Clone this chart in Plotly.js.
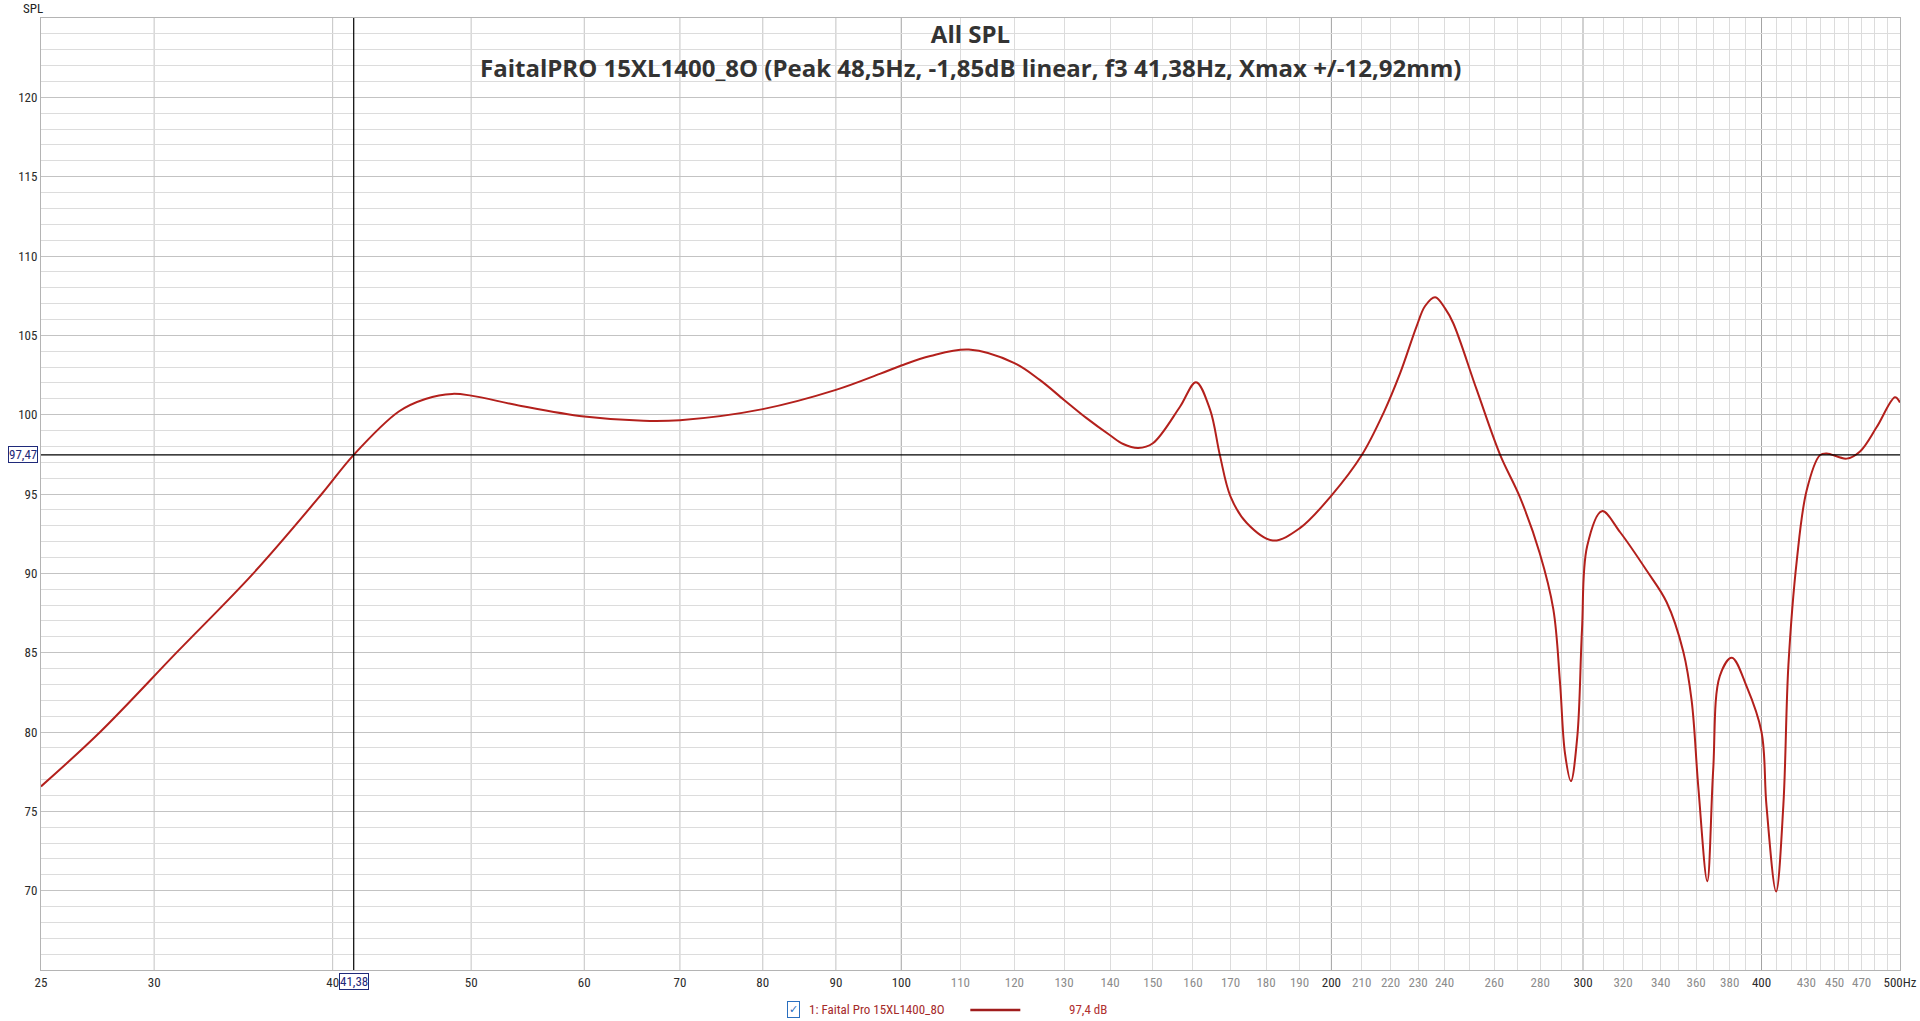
<!DOCTYPE html>
<html>
<head>
<meta charset="utf-8">
<script src="https://cdn.plot.ly/plotly-3.0.1.min.js"></script>
<style>
  html, body { margin: 0; padding: 0; background: #ffffff; }
  #chart { width: 1920px; height: 1021px; }
</style>
</head>
<body>
<div id="chart"></div>
<script>
// ---- data ----
const freqHz = [25.0, 27.5, 31.1, 35.2, 39.3, 41.38, 44.5, 46.45, 48.5, 50, 54.2, 60, 66, 70, 80, 90, 96.6, 100, 104.8, 111.5, 120, 125, 130, 134.8, 140, 143, 146.5, 150, 156.7, 160.8, 164.5, 167.1, 170, 174.5, 182, 190.1, 200, 210.1, 217.5, 223.4, 229.4, 232.6, 236.4, 240.2, 243.4, 252.8, 262.5, 271, 279.8, 286, 289.1, 291.4, 294.2, 297.3, 299.5, 302, 309.3, 318.5, 332.5, 343.3, 352.6, 357.4, 361.3, 366.5, 370, 374, 381.3, 390.5, 400, 403.2, 409.5, 414.3, 417.7, 423.4, 430.2, 439.5, 444.3, 458.8, 468.8, 481.6, 496, 500];
const splDb = [76.57, 80.0, 85.0, 90.0, 95.0, 97.47, 100.2, 100.99, 101.31, 101.2, 100.55, 99.88, 99.61, 99.65, 100.35, 101.56, 102.57, 103.1, 103.7, 104.1, 103.25, 102.19, 100.93, 99.78, 98.7, 98.15, 97.9, 98.2, 100.5, 102.05, 100.3, 97.45, 94.84, 93.17, 92.07, 92.85, 94.9, 97.47, 100.1, 102.6, 105.55, 106.85, 107.4, 106.7, 105.76, 101.56, 97.47, 94.8, 91.27, 87.73, 83.09, 78.67, 76.91, 79.78, 86.41, 91.71, 93.92, 92.59, 90.16, 88.18, 85.08, 81.98, 76.47, 70.6, 77.57, 83.53, 84.68, 82.87, 80.0, 75.36, 69.95, 75.36, 84.2, 90.82, 95.24, 97.45, 97.56, 97.23, 97.68, 99.22, 101.1, 100.77];

const seriesName = "1: Faital Pro 15XL1400_8O";
const seriesValueText = "97,4 dB";
const cursorFreq = 41.38;
const cursorFreqText = "41,38";
const cursorLevel = 97.47;
const cursorLevelText = "97,47";

const yTickVals = [70, 75, 80, 85, 90, 95, 100, 105, 110, 115, 120];
const xTickVals = [25, 30, 40, 50, 60, 70, 80, 90, 100, 110, 120, 130, 140, 150, 160, 170, 180, 190, 200, 210, 220, 230, 240, 260, 280, 300, 320, 340, 360, 380, 400, 430, 450, 470, 500];
const xTickLabels = ["25", "30", "40", "50", "60", "70", "80", "90", "100", "110", "120", "130", "140", "150", "160", "170", "180", "190", "200", "210", "220", "230", "240", "260", "280", "300", "320", "340", "360", "380", "400", "430", "450", "470", "500Hz"];
const xTickStrong = [25, 30, 40, 50, 60, 70, 80, 90, 100, 200, 300, 400, 500];

const gridLightHz = [110, 120, 130, 140, 150, 160, 170, 180, 190, 210, 220, 230, 240, 250, 260, 270, 280, 290, 310, 320, 330, 340, 350, 360, 370, 380, 390, 410, 420, 430, 440, 450, 460, 470, 480, 490];
const gridMediumHz = [30, 40, 50, 60, 70, 80, 90];
const gridDarkHz = [100, 200, 300, 400];

// ---- styling ----
const curveColor = "#b3201c";
const labelFont = "Liberation Sans Narrow, Roboto Condensed, Arial Narrow, Roboto, sans-serif";
const titleFont = "Open Sans, sans-serif";
const navy = "#1f2a7a";

const tickText = xTickVals.map((v, i) => {
  const c = xTickStrong.includes(v) ? "#2b2b2b" : "#8c8c8c";
  return '<span style="color:' + c + '">' + xTickLabels[i] + '</span>';
});

const shapes = [];
gridMediumHz.forEach(f => shapes.push({type: "line", xref: "x", yref: "paper", x0: f, x1: f, y0: 0, y1: 1, layer: "between", line: {color: "#c3c3c3", width: 1}}));
gridDarkHz.forEach(f => shapes.push({type: "line", xref: "x", yref: "paper", x0: f, x1: f, y0: 0, y1: 1, layer: "between", line: {color: "#a3a3a3", width: 1}}));
// cursor cross
shapes.push({type: "line", xref: "x", yref: "paper", x0: cursorFreq, x1: cursorFreq, y0: 0, y1: 1, layer: "above", line: {color: "#000000", width: 1.2}});
shapes.push({type: "line", xref: "paper", yref: "y", x0: 0, x1: 1, y0: cursorLevel, y1: cursorLevel, layer: "above", line: {color: "#000000", width: 1.2}});
// legend line sample
shapes.push({type: "line", xref: "paper", yref: "paper", x0: 0.4999, x1: 0.5268, y0: -0.042, y1: -0.042, line: {color: "#a01c1c", width: 2.5}});

const annotations = [
  {text: "FaitalPRO 15XL1400_8O (Peak 48,5Hz, -1,85dB linear, f3 41,38Hz, Xmax +/-12,92mm)", xref: "paper", yref: "paper", x: 0.5, y: 0.9475, xanchor: "center", yanchor: "middle", showarrow: false,
   font: {family: titleFont, size: 24, color: "#333333", weight: 700}},
  {text: "SPL", xref: "paper", yref: "paper", x: -0.0108, y: 1.0105, xanchor: "left", yanchor: "middle", showarrow: false,
   font: {family: labelFont, size: 13, color: "#222222"}},
  {text: cursorLevelText, xref: "paper", yref: "y", x: -0.0097, y: cursorLevel, xanchor: "center", yanchor: "middle", showarrow: false,
   bgcolor: "#ffffff", bordercolor: navy, borderwidth: 1, borderpad: 0, font: {family: labelFont, size: 13, color: navy}},
  {text: cursorFreqText, xref: "x", yref: "paper", x: Math.log10(cursorFreq), y: -0.0121, xanchor: "center", yanchor: "middle", showarrow: false,
   bgcolor: "#ffffff", bordercolor: navy, borderwidth: 1, borderpad: 0, font: {family: labelFont, size: 13, color: navy}},
  {text: "\u2713", xref: "paper", yref: "paper", x: 0.4046, y: -0.0415, xanchor: "center", yanchor: "middle", showarrow: false,
   bgcolor: "#ffffff", bordercolor: "#2a6fbf", borderwidth: 1, borderpad: 1, font: {family: "DejaVu Sans, sans-serif", size: 11, color: "#2a6fbf"}},
  {text: seriesName, xref: "paper", yref: "paper", x: 0.412, y: -0.042, xanchor: "left", yanchor: "middle", showarrow: false,
   font: {family: labelFont, size: 13, color: "#a52a2a"}},
  {text: seriesValueText, xref: "paper", yref: "paper", x: 0.5519, y: -0.042, xanchor: "left", yanchor: "middle", showarrow: false,
   font: {family: labelFont, size: 13, color: "#b03030"}}
];

const trace = {
  type: "scatter", mode: "lines", x: freqHz, y: splDb, name: seriesName,
  line: {color: curveColor, width: 2, shape: "spline", smoothing: 1.0},
  hoverinfo: "skip", showlegend: false
};

const layout = {
  width: 1920, height: 1021,
  paper_bgcolor: "#ffffff", plot_bgcolor: "#ffffff",
  margin: {l: 41, r: 20, t: 18, b: 51},
  showlegend: false,
  title: {text: "All SPL", xref: "paper", x: 0.5, xanchor: "center", yref: "container", y: 0.9657, yanchor: "middle",
          font: {family: titleFont, size: 24, color: "#333333", weight: 700}},
  xaxis: {
    type: "log", range: [Math.log10(25), Math.log10(500)],
    tickmode: "array", tickvals: xTickVals, ticktext: tickText, tickangle: 0,
    showgrid: false, zeroline: false, ticks: "",
    tickfont: {family: labelFont, size: 13, color: "#2b2b2b"},
    showline: true, mirror: true, linecolor: "#b4b4b4", linewidth: 1,
    minor: {tickmode: "array", tickvals: gridLightHz, showgrid: true, gridcolor: "#dcdcdc", gridwidth: 1, ticks: ""}
  },
  yaxis: {
    range: [65, 125],
    tickmode: "array", tickvals: yTickVals, ticks: "",
    showgrid: true, gridcolor: "#c3c3c3", gridwidth: 1, zeroline: false,
    tickfont: {family: labelFont, size: 13, color: "#2b2b2b"},
    showline: true, mirror: true, linecolor: "#b4b4b4", linewidth: 1,
    minor: {dtick: 1, showgrid: true, gridcolor: "#dcdcdc", gridwidth: 1, ticks: ""}
  },
  shapes: shapes,
  annotations: annotations
};

Plotly.newPlot("chart", [trace], layout, {displayModeBar: false, staticPlot: true});
</script>
</body>
</html>
